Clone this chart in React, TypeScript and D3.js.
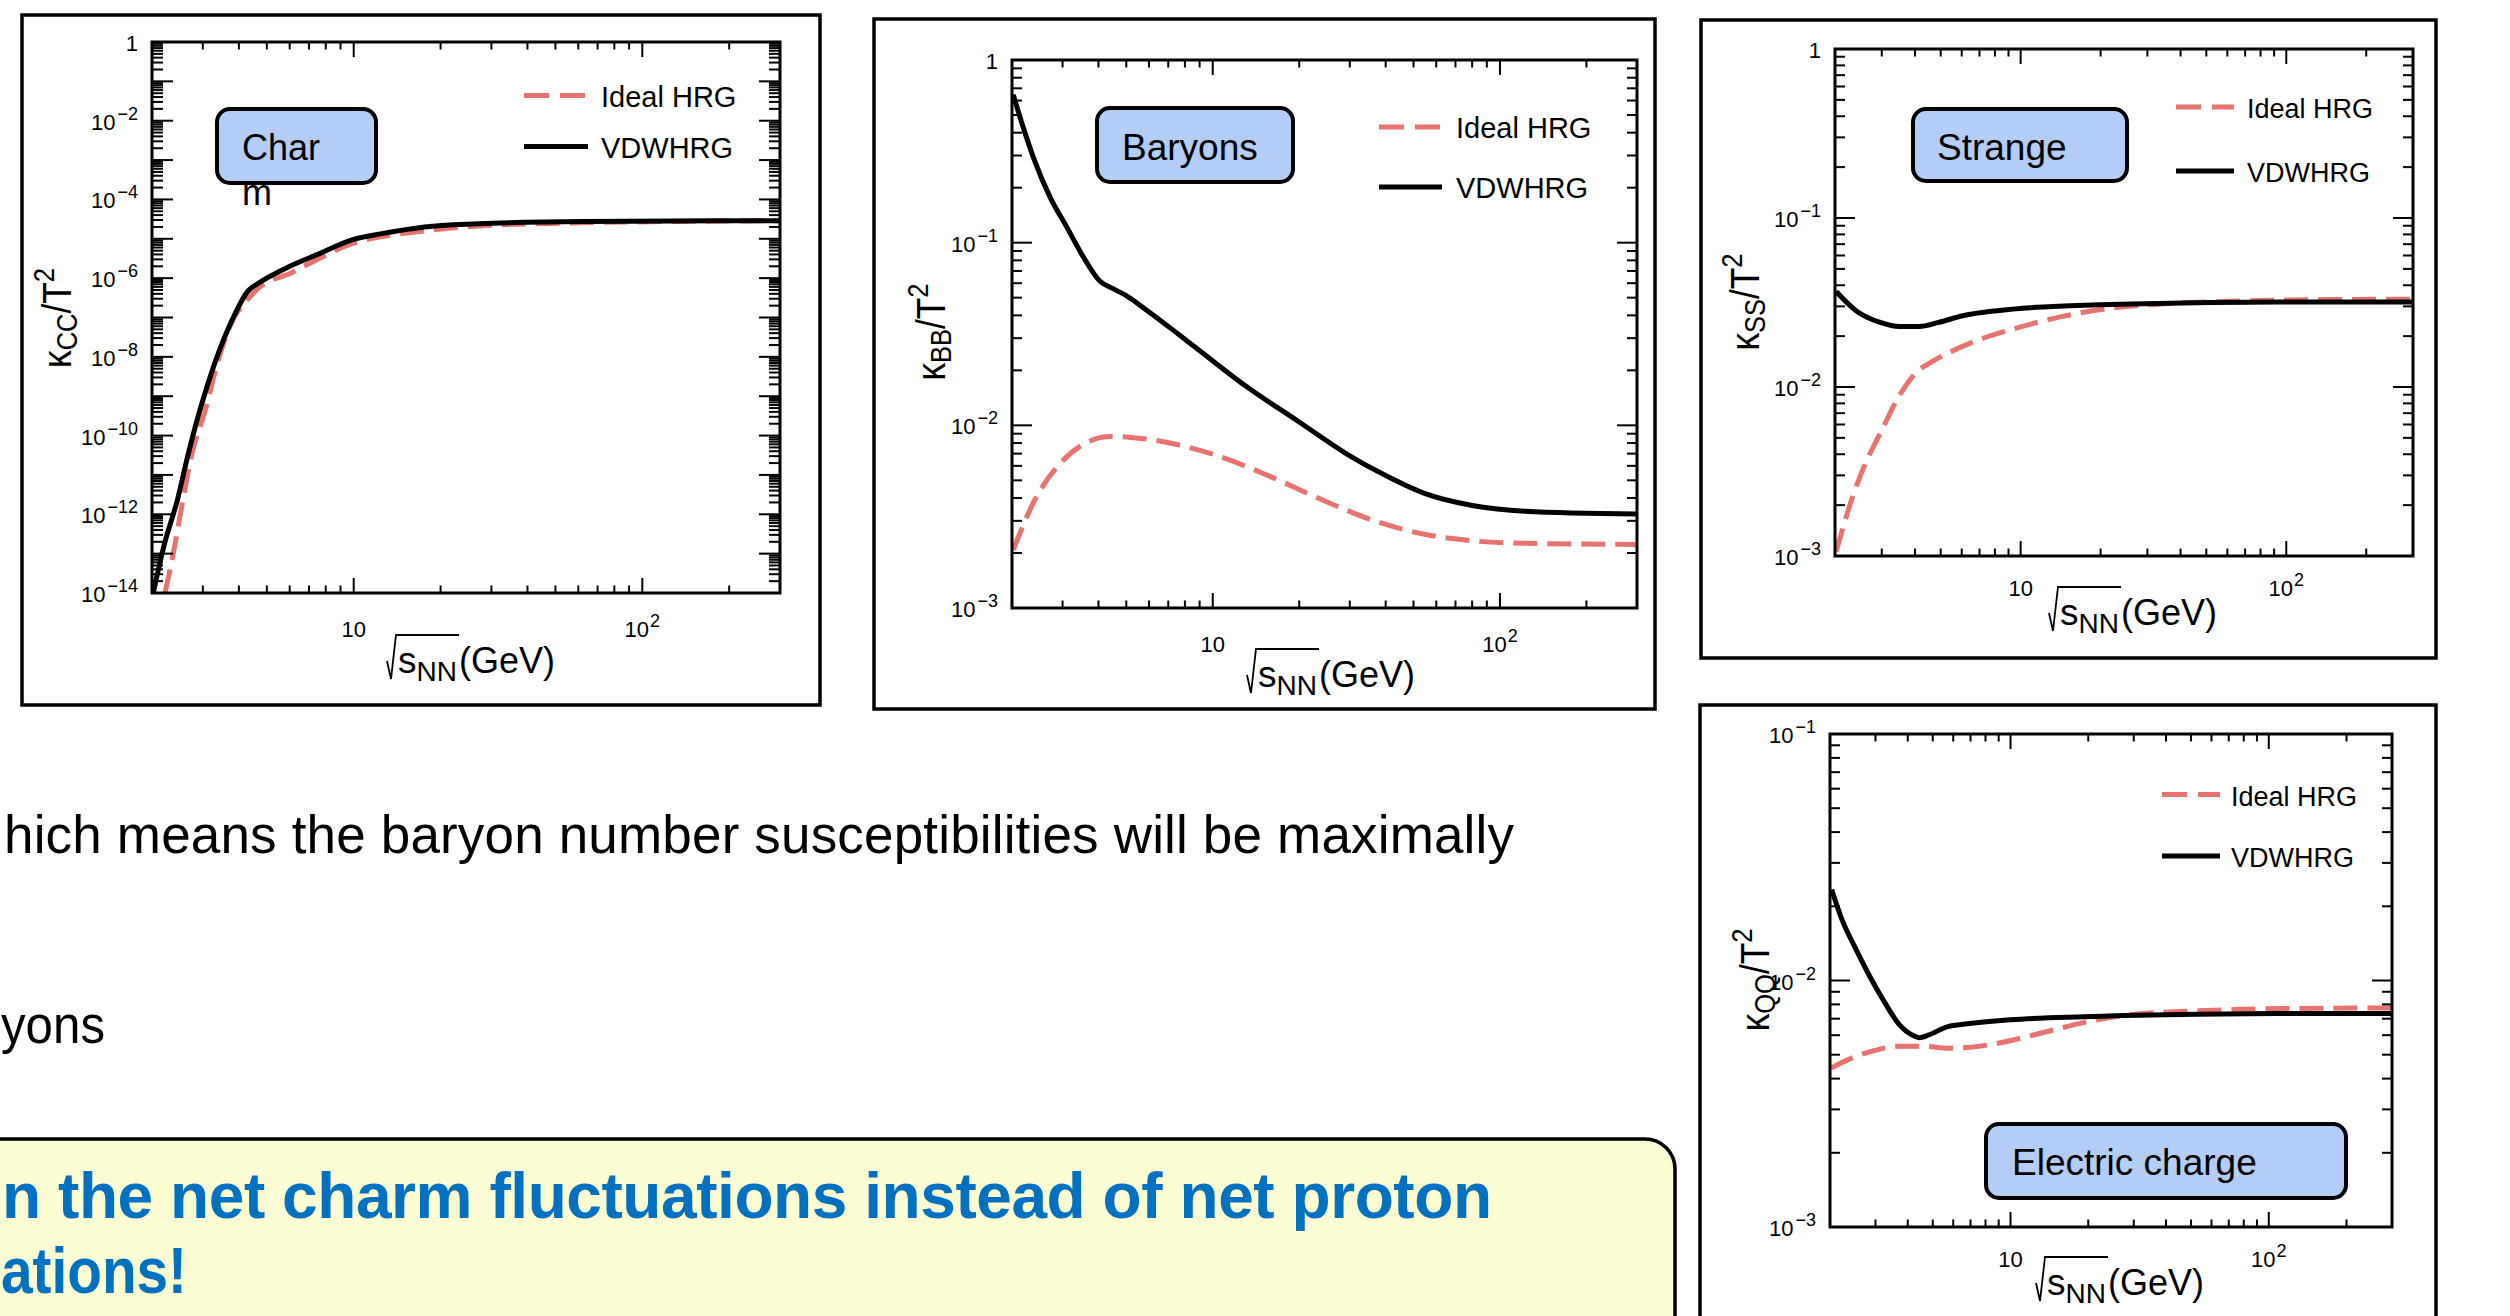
import React from 'react';
import * as d3 from 'd3';

const FONT = "'Liberation Sans', Arial, Helvetica, sans-serif";
const RED = '#e8736e';
const BOX_FILL = '#b3cdf6';

// x axis: sqrt(s_NN) in GeV
const X_DOMAIN: [number, number] = [2, 300];
const X_LABEL_VALUES = [10, 100];

// ---- Charm ----
const charmIdealX = [2.22, 2.4, 2.56, 2.75, 3.07, 3.37, 3.82, 4.34, 4.6, 6.09, 9.92, 17.6, 41, 300];
const charmIdealY = [1.0e-14, 1.66e-13, 2.34e-12, 3.39e-11, 4.79e-10, 6.92e-9, 8.91e-8, 3.16e-7, 5.01e-7, 1.38e-6, 7.59e-6, 1.58e-5, 2.4e-5, 2.88e-5];
const charmVdwX = [2.02, 2.2, 2.45, 2.67, 2.94, 3.3, 3.82, 4.31, 4.63, 5.84, 7.53, 9.92, 12.5, 17.6, 26.9, 62.6, 300];
const charmVdwY = [1.0e-14, 1.58e-13, 2.34e-12, 3.39e-11, 4.79e-10, 6.92e-9, 9.77e-8, 4.79e-7, 7.08e-7, 1.82e-6, 4.07e-6, 9.55e-6, 1.35e-5, 2.0e-5, 2.4e-5, 2.75e-5, 2.88e-5];
const charmYLabelExps = [0, -2, -4, -6, -8, -10, -12, -14];

// ---- Baryons ----
const baryonIdealX = [2.02, 2.4, 2.94, 3.6, 4.4, 5.18, 7.16, 10.7, 16.1, 24.1, 36.1, 54, 81, 122, 300];
const baryonIdealY = [0.00208, 0.0039, 0.00617, 0.00798, 0.00869, 0.00859, 0.00798, 0.00671, 0.00519, 0.0039, 0.00302, 0.00254, 0.00233, 0.00226, 0.00223];
const baryonVdwX = [2.02, 2.2, 2.37, 2.71, 3.1, 3.54, 4.05, 4.5, 5.0, 5.84, 7.3, 8.76, 13.1, 19.7, 29.5, 40, 54, 81, 122, 300];
const baryonVdwY = [0.646, 0.417, 0.295, 0.178, 0.122, 0.0838, 0.0615, 0.056, 0.0513, 0.0431, 0.0331, 0.0265, 0.0163, 0.0106, 0.00692, 0.00531, 0.00427, 0.00363, 0.00339, 0.00327];
const baryonYLabelExps = [0, -1, -2, -3];

// ---- Strange ----
const strangeIdealX = [2.02, 2.3, 2.61, 2.96, 3.5, 4.15, 4.51, 5.34, 6.88, 9.24, 14.1, 21.5, 32.7, 61.7, 143, 300];
const strangeIdealY = [0.00106, 0.00211, 0.00356, 0.00532, 0.00893, 0.01265, 0.01377, 0.01592, 0.01892, 0.02188, 0.026, 0.02917, 0.0309, 0.03214, 0.0329, 0.0331];
const strangeVdwX = [2.02, 2.4, 2.96, 3.5, 4.15, 4.91, 6.06, 8.15, 11.4, 17.4, 40.5, 94, 300];
const strangeVdwY = [0.0367, 0.0283, 0.0241, 0.0228, 0.0228, 0.0241, 0.0264, 0.0283, 0.0296, 0.0305, 0.0314, 0.0318, 0.0318];
const strangeYLabelExps = [0, -1, -2, -3];

// ---- Electric charge ----
const chargeIdealX = [2.02, 2.41, 2.99, 3.71, 4.61, 5.72, 6.81, 8.82, 12.5, 19.2, 29.7, 45.7, 109, 300];
const chargeIdealY = [0.00441, 0.00483, 0.00521, 0.00541, 0.00541, 0.00531, 0.00535, 0.00555, 0.00604, 0.00675, 0.00728, 0.00748, 0.00769, 0.00774];
const chargeVdwX = [2.03, 2.21, 2.52, 2.86, 3.26, 3.71, 4.23, 4.45, 4.8, 5.72, 6.81, 10.0, 19.2, 45.7, 109, 300];
const chargeVdwY = [0.0234, 0.018, 0.0134, 0.01033, 0.00813, 0.00662, 0.00596, 0.00586, 0.006, 0.0065, 0.00667, 0.00693, 0.00713, 0.00728, 0.00735, 0.00735];
const chargeYLabelExps = [-1, -2, -3];

const legendLabels = ['Ideal HRG', 'VDWHRG'];

type ChartCfg = {
  id: string;
  frame: { x: number; y: number; w: number; h: number };
  plot: { x0: number; x1: number; y0: number; y1: number };
  yDomain: [number, number];
  yLabelExps: number[];
  idealX: number[];
  idealY: number[];
  vdwX: number[];
  vdwY: number[];
  legend: { x1: number; x2: number; yI: number; yV: number; tx: number; font: number };
  box: { x: number; y: number; w: number; h: number; tx: number; ty: number; lines: string[]; gap: number; font: number };
  ySub: string;
  yTitle: { x: number; y: number };
  xTitle: { x: number; b: number };
  yTick: [number, number];
  xLabelDy: number;
};

const charts: ChartCfg[] = [
  {
    id: 'cc',
    frame: { x: 22, y: 15, w: 798, h: 690 },
    plot: { x0: 152, x1: 780, y0: 42, y1: 593 },
    yDomain: [1e-14, 1],
    yLabelExps: charmYLabelExps,
    idealX: charmIdealX, idealY: charmIdealY, vdwX: charmVdwX, vdwY: charmVdwY,
    legend: { x1: 524, x2: 588, yI: 95.5, yV: 146.5, tx: 601, font: 29 },
    box: { x: 217, y: 109, w: 159, h: 74, tx: 242, ty: 160, lines: ['Char', 'm'], gap: 45, font: 36 },
    ySub: 'CC',
    yTitle: { x: 71, y: 318 },
    xTitle: { x: 391, b: 673 },
    yTick: [21, 11],
    xLabelDy: 44,
  },
  {
    id: 'bb',
    frame: { x: 874, y: 19, w: 781, h: 690 },
    plot: { x0: 1012, x1: 1637, y0: 60, y1: 608 },
    yDomain: [1e-3, 1],
    yLabelExps: baryonYLabelExps,
    idealX: baryonIdealX, idealY: baryonIdealY, vdwX: baryonVdwX, vdwY: baryonVdwY,
    legend: { x1: 1379, x2: 1442, yI: 127, yV: 187, tx: 1456, font: 29 },
    box: { x: 1097, y: 108, w: 196, h: 74, tx: 1122, ty: 160, lines: ['Baryons'], gap: 0, font: 37 },
    ySub: 'BB',
    yTitle: { x: 945, y: 332 },
    xTitle: { x: 1251, b: 687 },
    yTick: [20, 10],
    xLabelDy: 44,
  },
  {
    id: 'ss',
    frame: { x: 1701, y: 20, w: 735, h: 638 },
    plot: { x0: 1835, x1: 2413, y0: 49, y1: 556 },
    yDomain: [1e-3, 1],
    yLabelExps: strangeYLabelExps,
    idealX: strangeIdealX, idealY: strangeIdealY, vdwX: strangeVdwX, vdwY: strangeVdwY,
    legend: { x1: 2176, x2: 2234, yI: 107, yV: 171, tx: 2247, font: 27 },
    box: { x: 1913, y: 109, w: 214, h: 72, tx: 1937, ty: 160, lines: ['Strange'], gap: 0, font: 37 },
    ySub: 'SS',
    yTitle: { x: 1759, y: 302 },
    xTitle: { x: 2053, b: 625 },
    yTick: [20, 10],
    xLabelDy: 40,
  },
  {
    id: 'qq',
    frame: { x: 1700, y: 705, w: 736, h: 640 },
    plot: { x0: 1830, x1: 2392, y0: 734, y1: 1227 },
    yDomain: [1e-3, 1e-1],
    yLabelExps: chargeYLabelExps,
    idealX: chargeIdealX, idealY: chargeIdealY, vdwX: chargeVdwX, vdwY: chargeVdwY,
    legend: { x1: 2162, x2: 2220, yI: 794.5, yV: 856, tx: 2231, font: 27 },
    box: { x: 1986, y: 1124, w: 360, h: 74, tx: 2012, ty: 1175, lines: ['Electric charge'], gap: 0, font: 37 },
    ySub: 'QQ',
    yTitle: { x: 1769, y: 980 },
    xTitle: { x: 2040, b: 1295 },
    yTick: [20, 10],
    xLabelDy: 40,
  },
];

function logTicks(lo: number, hi: number) {
  const out: { v: number; major: boolean }[] = [];
  const e0 = Math.floor(Math.log10(lo) + 1e-9);
  const e1 = Math.ceil(Math.log10(hi) - 1e-9);
  for (let e = e0; e <= e1; e++) {
    for (let k = 1; k <= 9; k++) {
      const v = k * Math.pow(10, e);
      if (v >= lo * 0.9999 && v <= hi * 1.0001) out.push({ v, major: k === 1 });
    }
  }
  return out;
}

const Chart: React.FC<{ c: ChartCfg }> = ({ c }) => {
  const { plot } = c;
  const xs = d3.scaleLog().domain(X_DOMAIN).range([plot.x0, plot.x1]);
  const ys = d3.scaleLog().domain(c.yDomain).range([plot.y1, plot.y0]);
  const line = d3
    .line<[number, number]>()
    .x((d) => xs(d[0]))
    .y((d) => ys(d[1]))
    .curve(d3.curveMonotoneX);
  const ideal = c.idealX.map((x, i) => [x, c.idealY[i]] as [number, number]);
  const vdw = c.vdwX.map((x, i) => [x, c.vdwY[i]] as [number, number]);
  const xt = logTicks(X_DOMAIN[0], X_DOMAIN[1]);
  const yt = logTicks(c.yDomain[0], c.yDomain[1]);
  const [yMaj, yMin] = c.yTick;
  const xMaj = 15;
  const xMin = 7.5;
  const clipId = 'clip-' + c.id;
  const tx = c.xTitle.x;
  const tb = c.xTitle.b;
  return (
    <g>
      <rect x={c.frame.x} y={c.frame.y} width={c.frame.w} height={c.frame.h} fill="#fff" stroke="#000" strokeWidth={3.5} />
      <defs>
        <clipPath id={clipId}>
          <rect x={plot.x0} y={plot.y0} width={plot.x1 - plot.x0} height={plot.y1 - plot.y0} />
        </clipPath>
      </defs>
      <g clipPath={`url(#${clipId})`}>
        <path d={line(ideal) || ''} fill="none" stroke={RED} strokeWidth={5} strokeDasharray="24 10" />
        <path d={line(vdw) || ''} fill="none" stroke="#000" strokeWidth={5} />
      </g>
      <g stroke="#000" strokeWidth={2}>
        {yt.map((t, i) => {
          const y = ys(t.v);
          const L = t.major ? yMaj : yMin;
          return (
            <g key={'y' + i}>
              <line x1={plot.x0} x2={plot.x0 + L} y1={y} y2={y} />
              <line x1={plot.x1} x2={plot.x1 - L} y1={y} y2={y} />
            </g>
          );
        })}
        {xt.map((t, i) => {
          const x = xs(t.v);
          const L = t.major ? xMaj : xMin;
          return (
            <g key={'x' + i}>
              <line x1={x} x2={x} y1={plot.y1} y2={plot.y1 - L} />
              <line x1={x} x2={x} y1={plot.y0} y2={plot.y0 + L} />
            </g>
          );
        })}
      </g>
      <rect x={plot.x0} y={plot.y0} width={plot.x1 - plot.x0} height={plot.y1 - plot.y0} fill="none" stroke="#000" strokeWidth={3} />
      <g fontFamily={FONT} fontSize={22} fill="#000">
        {c.yLabelExps.map((e) => {
          const y = ys(Math.pow(10, e)) + 9;
          return (
            <text key={'yl' + e} x={plot.x0 - 14} y={y} textAnchor="end">
              {e === 0 ? (
                '1'
              ) : (
                <>
                  <tspan>10</tspan>
                  <tspan fontSize={18} dx={2} dy={-10}>{'\u2212' + Math.abs(e)}</tspan>
                </>
              )}
            </text>
          );
        })}
        {X_LABEL_VALUES.map((v) => {
          const e = Math.round(Math.log10(v));
          return (
            <text key={'xl' + v} x={xs(v)} y={plot.y1 + c.xLabelDy} textAnchor="middle">
              <tspan>10</tspan>
              {e > 1 ? <tspan fontSize={18} dx={1} dy={-10}>{String(e)}</tspan> : null}
            </text>
          );
        })}
      </g>
      <path
        d={`M${tx - 4},${tb - 12} L${tx},${tb + 6} L${tx + 5},${tb - 38} L${tx + 68},${tb - 38}`}
        fill="none"
        stroke="#000"
        strokeWidth={1.8}
      />
      <text x={tx + 7} y={tb} fontFamily={FONT} fontSize={37} fill="#000">
        <tspan>s</tspan>
        <tspan fontSize={28} dy={8}>NN</tspan>
        <tspan dy={-8} dx={2} fontSize={36}>(GeV)</tspan>
      </text>
      <text
        transform={`translate(${c.yTitle.x},${c.yTitle.y}) rotate(-90) scale(0.88,1)`}
        textAnchor="middle"
        fontFamily={FONT}
        fontSize={40}
        fill="#000"
      >
        <tspan>κ</tspan>
        <tspan fontSize={29} dy={6}>{c.ySub}</tspan>
        <tspan dy={-6}>/T</tspan>
        <tspan fontSize={29} dy={-17}>2</tspan>
      </text>
      <line x1={c.legend.x1} x2={c.legend.x2} y1={c.legend.yI} y2={c.legend.yI} stroke={RED} strokeWidth={5} strokeDasharray="25 11" />
      <line x1={c.legend.x1} x2={c.legend.x2} y1={c.legend.yV} y2={c.legend.yV} stroke="#000" strokeWidth={5} />
      <text x={c.legend.tx} y={c.legend.yI + 11} fontFamily={FONT} fontSize={c.legend.font} fill="#000">
        {legendLabels[0]}
      </text>
      <text x={c.legend.tx} y={c.legend.yV + 11} fontFamily={FONT} fontSize={c.legend.font} fill="#000">
        {legendLabels[1]}
      </text>
      <rect x={c.box.x} y={c.box.y} width={c.box.w} height={c.box.h} rx={13} ry={13} fill={BOX_FILL} stroke="#000" strokeWidth={4} />
      {c.box.lines.map((s, i) => (
        <text key={'bl' + i} x={c.box.tx} y={c.box.ty + i * c.box.gap} fontFamily={FONT} fontSize={c.box.font} fill="#000">
          {s}
        </text>
      ))}
    </g>
  );
};

export default function App() {
  return (
    <svg
      width={2510}
      height={1316}
      viewBox="0 0 2510 1316"
      style={{ position: 'absolute', left: 0, top: 0, display: 'block', background: '#fff' }}
    >
      <rect x={0} y={0} width={2510} height={1316} fill="#fff" />
      <text x={4} y={853} textLength={1510} lengthAdjust="spacing" fontFamily={FONT} fontSize={53} fill="#000">
        hich means the baryon number susceptibilities will be maximally
      </text>
      <text x={1} y={1043} textLength={104} lengthAdjust="spacingAndGlyphs" fontFamily={FONT} fontSize={53} fill="#000">
        yons
      </text>
      <rect x={-40} y={1139} width={1715} height={260} rx={30} ry={30} fill="#fdfdd3" stroke="#000" strokeWidth={3.5} />
      <text x={2} y={1218} textLength={1490} lengthAdjust="spacing" fontFamily={FONT} fontSize={64} fontWeight="bold" fill="#0070c0">
        n the net charm fluctuations instead of net proton
      </text>
      <text x={1} y={1293} textLength={186} lengthAdjust="spacingAndGlyphs" fontFamily={FONT} fontSize={64} fontWeight="bold" fill="#0070c0">
        ations!
      </text>
      {charts.map((c) => (
        <Chart key={c.id} c={c} />
      ))}
    </svg>
  );
}
